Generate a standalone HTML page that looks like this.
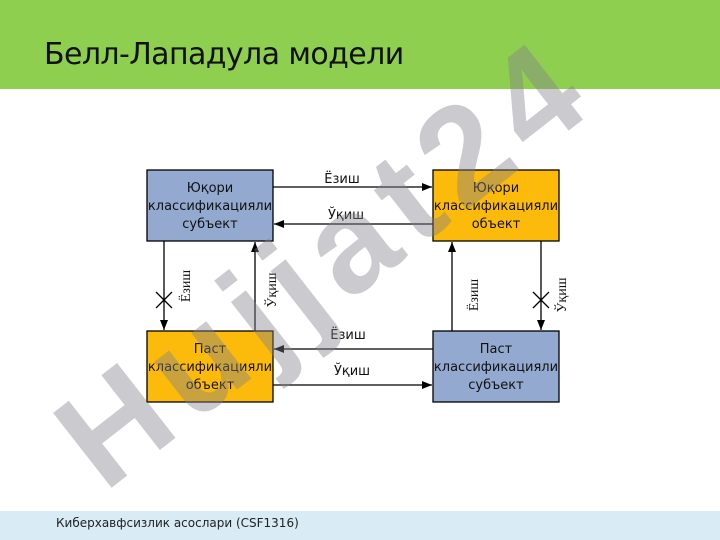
<!DOCTYPE html>
<html><head><meta charset="utf-8"><style>
body{margin:0;width:720px;height:540px;overflow:hidden;background:#fff;font-family:"DejaVu Sans","Liberation Sans",sans-serif;position:relative}
.hdr{position:absolute;left:0;top:0;width:720px;height:89px;background:#8fcf50}
.title{position:absolute;left:44px;top:37px;font-size:30px;color:#111;letter-spacing:-0.6px}
.ftr{position:absolute;left:0;top:511px;width:720px;height:29px;background:#d9ebf5}
.ftxt{position:absolute;left:56px;top:516px;font-size:12px;color:#222}
svg{position:absolute;left:0;top:0}
.wm{position:absolute;left:325px;top:262px;transform:translate(-50%,-50%) rotate(-38deg);font:bold 138px "Liberation Sans",sans-serif;color:rgba(130,128,140,0.42);white-space:nowrap;letter-spacing:12px}
</style></head><body>
<div class="hdr"></div>
<div class="title">Белл-Лападула модели</div>
<div class="ftr"></div>
<div class="ftxt">Киберхавфсизлик асослари (CSF1316)</div>
<svg width="720" height="540" viewBox="0 0 720 540">
<defs><marker id="a" markerWidth="10" markerHeight="8" refX="10" refY="4" orient="auto" markerUnits="userSpaceOnUse"><path d="M0,0L10,4L0,8z" fill="#000"/></marker></defs>
<g stroke="#000" stroke-width="1.3">
<rect x="147" y="170" width="126" height="71" fill="#93a9cf"/>
<rect x="433" y="170" width="126" height="71" fill="#fcbb0a"/>
<rect x="147" y="331" width="126" height="71" fill="#fcbb0a"/>
<rect x="433" y="331" width="126" height="71" fill="#93a9cf"/>
<line x1="273" y1="187" x2="432" y2="187" marker-end="url(#a)"/>
<line x1="433" y1="224" x2="274" y2="224" marker-end="url(#a)"/>
<line x1="433" y1="349" x2="274" y2="349" marker-end="url(#a)"/>
<line x1="273" y1="385" x2="432" y2="385" marker-end="url(#a)"/>
<line x1="164" y1="241" x2="164" y2="330" marker-end="url(#a)"/>
<line x1="255" y1="331" x2="255" y2="242" marker-end="url(#a)"/>
<line x1="452" y1="331" x2="452" y2="242" marker-end="url(#a)"/>
<line x1="541" y1="241" x2="541" y2="330" marker-end="url(#a)"/>
<path d="M156,292L172,308M172,292L156,308M533,292L549,308M549,292L533,308"/>
</g>
<g font-family="DejaVu Sans,Liberation Sans,sans-serif" font-size="13" text-anchor="middle" fill="#111">
<text x="210" y="192">Юқори</text><text x="210" y="210">классификацияли</text><text x="210" y="228">субъект</text>
<text x="496" y="192">Юқори</text><text x="496" y="210">классификацияли</text><text x="496" y="228">объект</text>
<text x="210" y="353">Паст</text><text x="210" y="371">классификацияли</text><text x="210" y="389">объект</text>
<text x="496" y="353">Паст</text><text x="496" y="371">классификацияли</text><text x="496" y="389">субъект</text>
<text x="342" y="183">Ёзиш</text><text x="346" y="219">Ўқиш</text>
<text x="348" y="339">Ёзиш</text><text x="352" y="375">Ўқиш</text>
</g>
<g font-family="Liberation Serif,serif" font-size="14" text-anchor="middle" fill="#111">
<text transform="translate(190,286) rotate(-90)">Ёзиш</text>
<text transform="translate(276,290) rotate(-90)">Ўқиш</text>
<text transform="translate(478,295) rotate(-90)">Ёзиш</text>
<text transform="translate(566,295) rotate(-90)">Ўқиш</text>
</g>
</svg>
<div class="wm">Hujjat24</div>
</body></html>
